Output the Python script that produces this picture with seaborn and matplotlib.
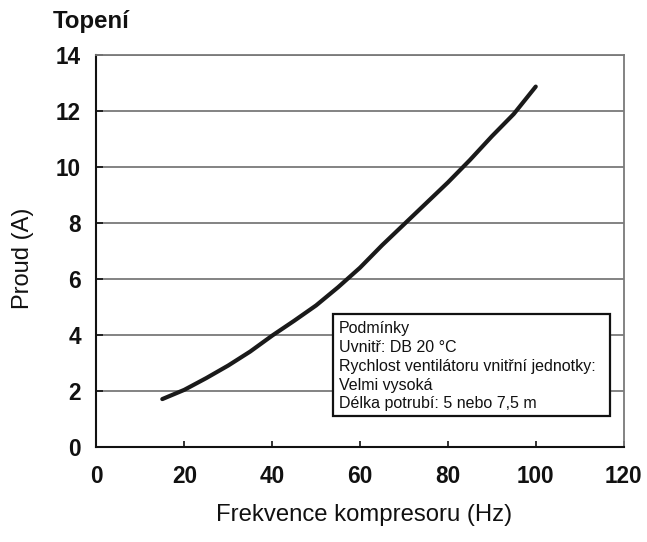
import matplotlib
matplotlib.use("Agg")
import matplotlib.pyplot as plt
import seaborn as sns
import pandas as pd
from matplotlib.patches import Rectangle

# Data
freq_hz = [15, 20, 25, 30, 35, 40, 45, 50, 55, 60, 65, 70, 75, 80, 85, 90, 95, 100]
current_a = [1.70, 2.03, 2.45, 2.90, 3.40, 3.97, 4.50, 5.05, 5.70, 6.40, 7.20, 7.95, 8.70, 9.45, 10.25, 11.10, 11.90, 12.88]
x_ticks = [0, 20, 40, 60, 80, 100, 120]
y_ticks = [0, 2, 4, 6, 8, 10, 12, 14]
title_text = "Topení"
x_label = "Frekvence kompresoru (Hz)"
y_label = "Proud (A)"
conditions = ["Podmínky", "Uvnitř: DB 20 °C", "Rychlost ventilátoru vnitřní jednotky:",
              "Velmi vysoká", "Délka potrubí: 5 nebo 7,5 m"]

sns.set_theme(style="white")
plt.rcParams["font.family"] = ["Liberation Sans", "DejaVu Sans"]

df = pd.DataFrame({"freq": freq_hz, "current": current_a})

fig = plt.figure(figsize=(6.47, 5.42), dpi=100)
ax = fig.add_axes([96.4 / 647, 1 - 446.6 / 542, (623.6 - 96.4) / 647, (446.6 - 55.3) / 542])

sns.lineplot(data=df, x="freq", y="current", ax=ax, color="#1a1a1a", linewidth=3.0, zorder=3)

ax.set_xlim(0, 120)
ax.set_ylim(0, 14)
ax.set_xticks(x_ticks)
ax.set_yticks(y_ticks)
ax.set_xticklabels([str(v) for v in x_ticks], fontsize=16.3, fontweight="bold", color="#111111")
ax.set_yticklabels([str(v) for v in y_ticks], fontsize=16.3, fontweight="bold", color="#111111")

ax.yaxis.grid(True, color="#7a7a7a", linewidth=1.3)
ax.xaxis.grid(False)
ax.set_axisbelow(True)

ax.tick_params(axis="x", direction="in", length=4, width=1.2, color="#111111", pad=13, bottom=True)
ax.tick_params(axis="y", direction="in", length=5, width=1.2, color="#111111", pad=11, left=True)

for side in ["left", "bottom"]:
    ax.spines[side].set_color("#111111")
    ax.spines[side].set_linewidth(1.5)
for side in ["top", "right"]:
    ax.spines[side].set_color("#7a7a7a")
    ax.spines[side].set_linewidth(1.3)

ax.set_xlabel("")
ax.set_ylabel("")
fig.text(364 / 647, 1 - 515 / 542, x_label, ha="center", va="center", fontsize=17.2, color="#111111")
fig.text(23 / 647, 1 - 258 / 542, y_label, ha="center", va="center", rotation=90, fontsize=17, color="#111111")
fig.text(53 / 647, 1 - 28.3 / 542, title_text, ha="left", va="baseline", fontsize=17.3, fontweight="bold", color="#111111")

# Conditions box
bx0, bx1 = (333 - 96.4) / (623.6 - 96.4), (610 - 96.4) / (623.6 - 96.4)
by1, by0 = (446.6 - 314) / (446.6 - 55.3), (446.6 - 416) / (446.6 - 55.3)
rect = Rectangle((bx0, by0), bx1 - bx0, by1 - by0, transform=ax.transAxes,
                 facecolor="white", edgecolor="#111111", linewidth=1.6, zorder=5)
ax.add_patch(rect)
ax.text(bx0 + 6 / (623.6 - 96.4), by1 - 7 / (446.6 - 55.3), "\n".join(conditions),
        transform=ax.transAxes, ha="left", va="top", fontsize=11.5, linespacing=1.32,
        color="#111111", zorder=6)

fig.savefig("out.png", dpi=100)
